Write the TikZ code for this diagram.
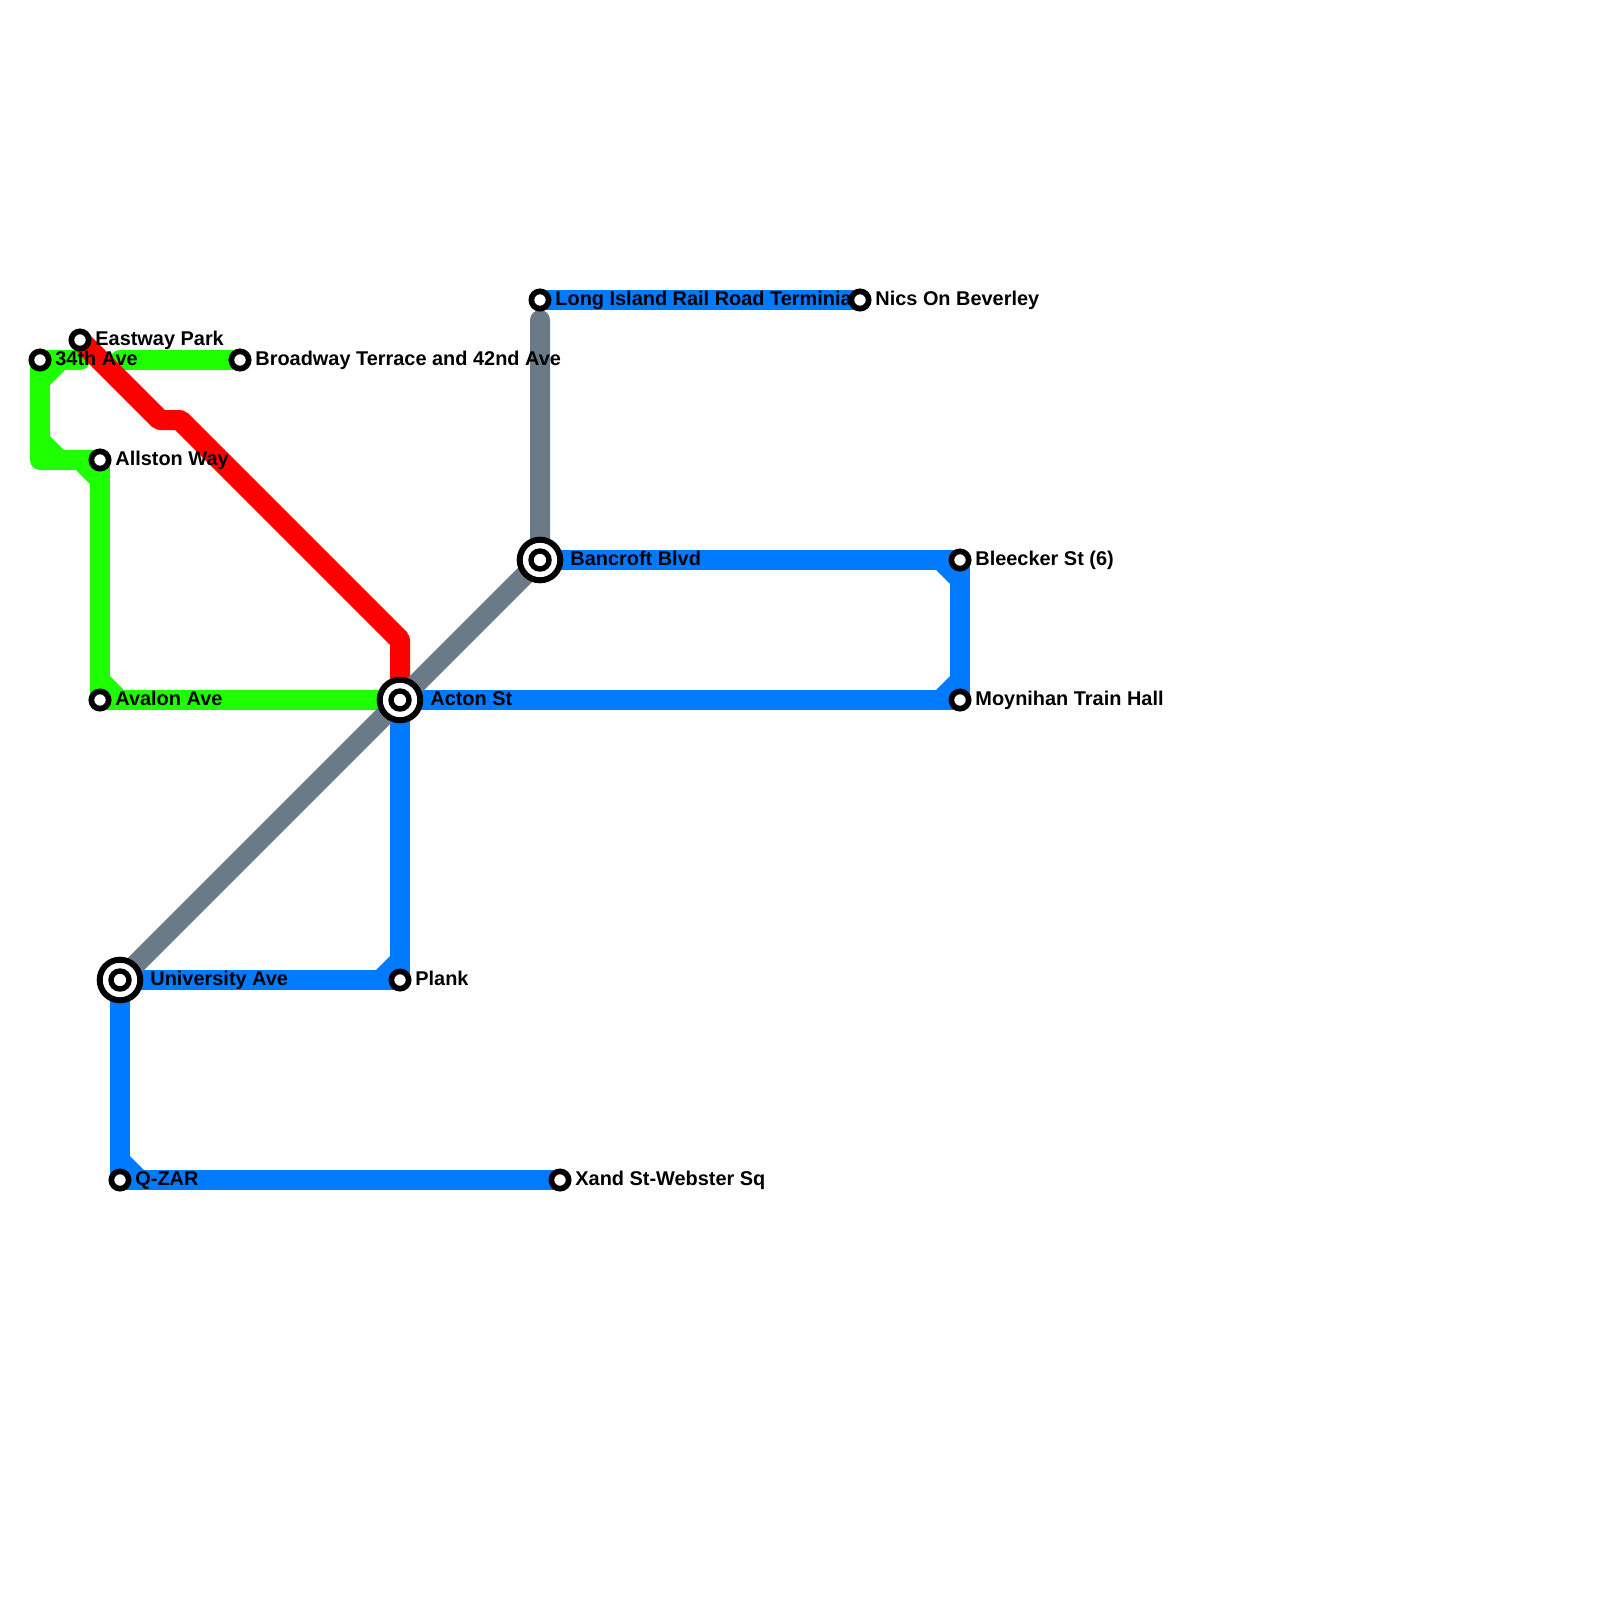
\documentclass[tikz,border=0pt]{standalone}
\usepackage{fontspec}
\setmainfont{Liberation Sans}
\definecolor{lgreen}{RGB}{30,255,0}
\definecolor{lblue}{RGB}{0,123,255}
\definecolor{lred}{RGB}{255,0,0}
\definecolor{lgrey}{RGB}{106,122,135}
\tikzset{
  metro/.style={line width=10pt,line join=round,line cap=round},
  greenline/.style={metro,draw=lgreen},
  redline/.style={metro,draw=lred},
  reddiag/.style={line width=10.6pt,line cap=butt,draw=lred},
  blueline/.style={metro,draw=lblue},
  greyline/.style={metro,draw=lgrey},
  greenfill/.style={fill=lgreen},
  bluefill/.style={fill=lblue},
  smallstop/.style={circle,draw=black,fill=white,line width=2.85pt,minimum size=8.65pt,inner sep=0pt},
  bigstop/.style={circle,draw=black,fill=white,line width=3pt,minimum size=20.3pt,inner sep=0pt},
  bigcore/.style={circle,draw=black,fill=white,line width=2.7pt,minimum size=9pt,inner sep=0pt},
  lbl/.style={anchor=base west,inner sep=0pt,font=\fontsize{9.96pt}{12pt}\selectfont\bfseries,text=black}
}
\begin{document}
\begin{tikzpicture}[x=0.5pt,y=-0.5pt]
\useasboundingbox (0,0) rectangle (1600,1600);
% bend points
\coordinate (gA) at (80,360);
\coordinate (gB) at (120,360);
\coordinate (gC) at (40,460);
\coordinate (r1) at (160,420);
\coordinate (r2) at (180,420);
\coordinate (r3) at (400,640);
\coordinate (grTop) at (540,320);
% station positions
\coordinate (s34) at (40,360);
\coordinate (east) at (80,340);
\coordinate (broad) at (240,360);
\coordinate (alls) at (100,460);
\coordinate (aval) at (100,700);
\coordinate (acton) at (400,700);
\coordinate (plank) at (400,980);
\coordinate (univ) at (120,980);
\coordinate (qzar) at (120,1180);
\coordinate (xand) at (560,1180);
\coordinate (banc) at (540,560);
\coordinate (blee) at (960,560);
\coordinate (moyn) at (960,700);
\coordinate (long) at (540,300);
\coordinate (nics) at (860,300);
% green
\draw[greenline] (gA) -- (s34) -- (gC) -- (alls) -- (aval) -- (acton);
\draw[greenline] (gB) -- (broad);
\fill[greenfill] (50,370) -- (50,385) -- (65,370) -- cycle;
\fill[greenfill] (50,450) -- (50,436) -- (64,450) -- cycle;
\fill[greenfill] (90,470) -- (76,470) -- (90,484) -- cycle;
\fill[greenfill] (110,690) -- (110,676) -- (124,690) -- cycle;
% red
\draw[redline] (east) -- (r1) -- (r2) -- (r3) -- (acton);
\draw[reddiag] (east) -- (r1);
\draw[reddiag] (r2) -- (r3);
% blue
\draw[blueline] (long) -- (nics);
\draw[blueline] (banc) -- (blee) -- (moyn) -- (acton) -- (plank) -- (univ) -- (qzar) -- (xand);
\fill[bluefill] (950,570) -- (936,570) -- (950,584) -- cycle;
\fill[bluefill] (950,690) -- (936,690) -- (950,676) -- cycle;
\fill[bluefill] (390,970) -- (376,970) -- (390,956) -- cycle;
\fill[bluefill] (130,1170) -- (130,1156) -- (144,1170) -- cycle;
% grey
\draw[greyline] (grTop) -- (banc) -- (acton) -- (univ);
% stations
\node[smallstop] (n34) at (s34) {};
\node[smallstop] (neast) at (east) {};
\node[smallstop] (nbroad) at (broad) {};
\node[smallstop] (nalls) at (alls) {};
\node[smallstop] (naval) at (aval) {};
\node[bigstop] (nacton) at (acton) {};
\node[bigcore] (nactonc) at (acton) {};
\node[smallstop] (nplank) at (plank) {};
\node[bigstop] (nuniv) at (univ) {};
\node[bigcore] (nunivc) at (univ) {};
\node[smallstop] (nqzar) at (qzar) {};
\node[smallstop] (nxand) at (xand) {};
\node[bigstop] (nbanc) at (banc) {};
\node[bigcore] (nbancc) at (banc) {};
\node[smallstop] (nblee) at (blee) {};
\node[smallstop] (nmoyn) at (moyn) {};
\node[smallstop] (nlong) at (long) {};
\node[smallstop] (nnics) at (nics) {};
% labels
\node[lbl] (t34) at (55,365) {34th Ave};
\node[lbl] (teast) at (95,345) {Eastway Park};
\node[lbl] (tbroad) at (255,365) {Broadway Terrace and 42nd Ave};
\node[lbl] (talls) at (115,465) {Allston Way};
\node[lbl] (taval) at (115,705) {Avalon Ave};
\node[lbl] (tacton) at (430,705) {Acton St};
\node[lbl] (tplank) at (415,985) {Plank};
\node[lbl] (tuniv) at (150,985) {University Ave};
\node[lbl] (tqzar) at (135,1185) {Q-ZAR};
\node[lbl] (txand) at (575,1185) {Xand St-Webster Sq};
\node[lbl] (tbanc) at (570,565) {Bancroft Blvd};
\node[lbl] (tblee) at (975,565) {Bleecker St (6)};
\node[lbl] (tmoyn) at (975,705) {Moynihan Train Hall};
\node[lbl] (tlong) at (555,305) {Long Island Rail Road Terminia};
\node[lbl] (tnics) at (875,305) {Nics On Beverley};
\end{tikzpicture}
\end{document}
